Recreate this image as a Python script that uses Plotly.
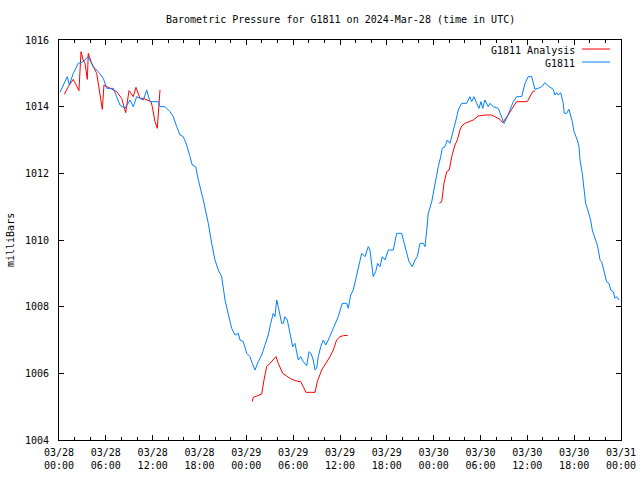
import datetime as dt
import plotly.graph_objects as go

BASE = dt.datetime(2024, 3, 28, 0, 0)

# G1811 observed pressure (hours since 2024-03-28 00:00 UTC, millibars)
blue_hours = [0.13, 1.06, 1.32, 1.83, 2.47, 3.11, 3.68, 3.97, 4.39, 5.03, 5.68, 6.11, 6.96, 7.39, 7.81,
              8.46, 9.10, 9.52, 9.95, 10.80, 11.24, 11.66, 12.72, 12.94, 13.58, 14.22, 14.64, 15.08,
              15.50, 15.92, 16.36, 16.78, 17.08, 17.51, 17.85, 18.49, 19.13, 19.56, 19.98, 20.41,
              20.84, 21.27, 21.69, 22.12, 22.55, 22.97, 23.19, 23.61, 24.05, 24.47, 24.76, 25.11,
              25.53, 25.97, 26.39, 26.81, 27.12, 27.45, 27.67, 27.89, 28.09, 28.31, 28.53, 28.73,
              28.95, 29.25, 29.59, 29.94, 30.23, 30.66, 30.96, 31.30, 31.73, 32.03, 32.28, 32.58,
              32.80, 33.01, 33.22, 33.53, 33.86, 34.17, 34.50, 34.94, 35.36, 35.78, 36.29, 36.86,
              37.06, 37.37, 37.70, 38.14, 38.56, 38.78, 39.20, 39.62, 39.84, 40.06, 40.26, 40.57,
              40.83, 41.12, 41.42, 41.76, 42.19, 42.83, 43.04, 43.26, 43.90, 44.20, 44.54, 44.84,
              45.26, 45.61, 45.90, 46.25, 46.67, 46.89, 47.11, 47.31, 47.75, 48.17, 48.59, 48.90,
              49.10, 49.45, 49.74, 50.09, 50.51, 50.86, 51.15, 51.59, 52.23, 52.65, 52.87, 53.16,
              53.51, 53.80, 54.06, 54.28, 54.57, 55.00, 55.21, 55.64, 56.28, 56.71, 57.01, 57.35,
              57.78, 58.20, 58.63, 59.27, 59.70, 60.12, 60.56, 60.98, 61.40, 61.84, 62.26, 62.68,
              63.32, 63.54, 63.76, 63.96, 64.27, 64.40, 64.60, 64.73, 65.04, 65.33, 65.55, 65.76,
              65.98, 66.19, 66.40, 66.62, 66.75, 67.04, 67.26, 67.47, 67.68, 67.90, 68.11, 68.32,
              68.54, 68.76, 68.96, 69.18, 69.31, 69.52, 69.73, 69.95, 70.16, 70.46, 70.68, 71.01,
              71.23, 71.44, 71.73]
blue_mb = [1014.43, 1014.9, 1014.65, 1015.0, 1015.3, 1015.35, 1015.5, 1015.4, 1015.2, 1015.05, 1014.85,
           1014.55, 1014.55, 1014.3, 1014.05, 1013.95, 1014.2, 1014.0, 1014.3, 1014.2, 1014.5, 1014.15,
           1014.15, 1014.0, 1014.0, 1013.85, 1013.7, 1013.4, 1013.15, 1013.1, 1012.85, 1012.5, 1012.25,
           1012.2, 1011.8, 1011.2, 1010.5, 1009.9, 1009.4, 1009.1, 1008.9, 1008.2, 1007.8, 1007.35,
           1007.15, 1007.2, 1007.0, 1006.95, 1006.6, 1006.5, 1006.3, 1006.1, 1006.35, 1006.55, 1006.85,
           1007.15, 1007.5, 1007.8, 1007.7, 1008.2, 1008.0, 1007.75, 1007.5, 1007.5, 1007.7, 1007.6,
           1007.2, 1006.8, 1006.9, 1006.4, 1006.5, 1006.35, 1006.23, 1006.65, 1006.6, 1006.4, 1006.1,
           1006.15, 1006.5, 1006.8, 1007.0, 1006.85, 1007.0, 1007.25, 1007.5, 1007.7, 1008.1, 1008.1,
           1007.95, 1008.35, 1008.5, 1008.95, 1009.45, 1009.6, 1009.5, 1009.8, 1009.7, 1009.3, 1008.9,
           1009.05, 1009.3, 1009.2, 1009.5, 1009.4, 1009.7, 1009.7, 1009.9, 1010.2, 1010.2, 1009.9,
           1009.6, 1009.35, 1009.2, 1009.4, 1009.5, 1009.9, 1009.9, 1009.8, 1010.3, 1010.8, 1011.15,
           1011.7, 1012.2, 1012.5, 1012.75, 1012.8, 1013.0, 1012.9, 1013.25, 1013.6, 1013.9, 1014.1,
           1014.1, 1014.3, 1014.15, 1014.3, 1014.1, 1013.95, 1014.15, 1013.95, 1014.2, 1014.0, 1014.1,
           1014.0, 1013.95, 1013.7, 1013.5, 1013.65, 1013.9, 1014.15, 1014.3, 1014.3, 1014.7, 1014.9,
           1014.9, 1014.52, 1014.55, 1014.6, 1014.72, 1014.62, 1014.52, 1014.35, 1014.42, 1014.35,
           1014.42, 1014.3, 1014.1, 1013.8, 1013.8, 1013.92, 1013.75, 1013.55, 1013.25, 1013.15,
           1013.0, 1012.8, 1012.4, 1012.0, 1011.6, 1011.1, 1010.95, 1010.8, 1010.6, 1010.3, 1010.15,
           1009.95, 1009.85, 1009.6, 1009.4, 1009.35, 1009.15, 1009.0, 1008.75, 1008.7, 1008.5,
           1008.45, 1008.25, 1008.3, 1008.2]

# G1811 Analysis (None marks gaps between segments)
red_hours = [0.68, 1.19, 1.83, 2.56, 2.82, 3.11, 3.33, 3.63, 3.75, 4.19, 4.83, 5.12, 5.55, 5.76, 6.53,
             7.39, 8.03, 8.54, 8.97, 9.52, 9.86, 10.38, 10.80, 11.36, 11.79, 11.95, 12.30, 12.59,
             12.81, 12.94, None,
             24.76, 24.89, 25.33, 25.97, 26.26, 26.61, 27.03, 27.45, 27.80, 28.09, 28.66, 29.17,
             29.59, 30.23, 30.96, 31.30, 31.64, 32.80, 33.09, 33.65, 34.20, 34.72, 35.14, 35.57,
             36.00, 36.42, 36.98, None,
             48.72, 49.03, 49.32, 49.67, 50.00, 50.31, 50.73, 51.03, 51.37, 51.59, 52.01, 52.65,
             53.07, 53.72, 54.57, 55.43, 56.07, 56.49, 56.84, 57.13, 57.56, 57.99, 58.63, 59.99,
             60.34, 60.69, 60.98]
red_mb = [1014.37, 1014.6, 1014.82, 1014.48, 1015.65, 1015.4, 1015.3, 1014.82, 1015.6, 1015.3, 1015.0,
          1014.55, 1013.92, 1014.65, 1014.55, 1014.45, 1014.25, 1013.82, 1014.48, 1014.3, 1014.58,
          1014.25, 1014.25, 1014.2, 1014.15, 1014.0, 1013.55, 1013.35, 1014.15, 1014.5, None,
          1005.15, 1005.28, 1005.32, 1005.38, 1005.8, 1006.2, 1006.3, 1006.42, 1006.5, 1006.3,
          1006.0, 1005.92, 1005.85, 1005.78, 1005.75, 1005.6, 1005.43, 1005.43, 1005.75, 1006.1,
          1006.3, 1006.5, 1006.7, 1007.0, 1007.1, 1007.13, 1007.14, None,
          1011.1, 1011.15, 1011.7, 1012.05, 1012.1, 1012.5, 1012.85, 1013.0, 1013.3, 1013.42,
          1013.5, 1013.55, 1013.6, 1013.72, 1013.75, 1013.75, 1013.68, 1013.62, 1013.52, 1013.6,
          1013.75, 1013.92, 1014.15, 1014.15, 1014.3, 1014.45, 1014.48]

y_ticks = [1004, 1006, 1008, 1010, 1012, 1014, 1016]


def to_time(hours):
    return [None if h is None else BASE + dt.timedelta(hours=h) for h in hours]


RED = "#ff0000"
BLUE = "#0080ff"
FONT = "DejaVu Sans Mono"

fig = go.Figure()
fig.add_trace(go.Scatter(x=to_time(red_hours), y=red_mb, mode="lines", name="G1811 Analysis",
                         line=dict(color=RED, width=1), connectgaps=False))
fig.add_trace(go.Scatter(x=to_time(blue_hours), y=blue_mb, mode="lines", name="G1811",
                         line=dict(color=BLUE, width=1)))

W, H = 640, 480
L, R, T, B = 59, 19, 40, 40
pw, ph = W - L - R, H - T - B


def px(x):
    return (x - L) / pw


def py(y):
    return 1 - (y - T) / ph


annotations = [
    dict(text="Barometric Pressure for G1811 on 2024-Mar-28 (time in UTC)", x=px(340), y=py(19),
         xref="paper", yref="paper", showarrow=False, xanchor="center", yanchor="middle",
         font=dict(family=FONT, size=10, color="black")),
    dict(text="milliBars", x=px(10), y=py(240), xref="paper", yref="paper", showarrow=False,
         textangle=-90, xanchor="center", yanchor="middle",
         font=dict(family=FONT, size=10, color="black")),
    dict(text="G1811 Analysis", x=px(577), y=py(50), xref="paper", yref="paper", showarrow=False,
         xanchor="right", yanchor="middle", font=dict(family=FONT, size=10, color="black")),
    dict(text="G1811", x=px(577), y=py(63), xref="paper", yref="paper", showarrow=False,
         xanchor="right", yanchor="middle", font=dict(family=FONT, size=10, color="black")),
]
shapes = [
    dict(type="line", xref="paper", yref="paper", x0=px(582), x1=px(610), y0=py(49), y1=py(49),
         line=dict(color=RED, width=1)),
    dict(type="line", xref="paper", yref="paper", x0=px(582), x1=px(610), y0=py(62), y1=py(62),
         line=dict(color=BLUE, width=1)),
]

fig.update_layout(
    width=W, height=H,
    margin=dict(l=L, r=R, t=T, b=B, pad=0, autoexpand=False),
    paper_bgcolor="white", plot_bgcolor="white",
    showlegend=False,
    annotations=annotations,
    shapes=shapes,
    font=dict(family=FONT, size=10, color="black"),
    xaxis=dict(
        type="date",
        automargin=False,
        range=[BASE, BASE + dt.timedelta(hours=72)],
        dtick=6 * 3600 * 1000,
        tick0=BASE,
        tickformat="%m/%d<br>%H:%M",
        ticks="inside", ticklen=5, tickcolor="black",
        showline=True, linecolor="black", linewidth=1, mirror="allticks",
        showgrid=False, zeroline=False,
        minor=dict(dtick=2 * 3600 * 1000, ticks="inside", ticklen=3, tickcolor="black", showgrid=False),
        tickfont=dict(family=FONT, size=10, color="black"),
        ticklabelstandoff=3,
    ),
    yaxis=dict(
        automargin=False,
        range=[1004, 1016],
        tickvals=y_ticks,
        ticktext=[str(v) for v in y_ticks],
        ticks="inside", ticklen=5, tickcolor="black",
        showline=True, linecolor="black", linewidth=1, mirror="allticks",
        showgrid=False, zeroline=False,
        tickfont=dict(family=FONT, size=10, color="black"),
        ticklabelstandoff=7,
    ),
)

fig.write_html("out.html")
